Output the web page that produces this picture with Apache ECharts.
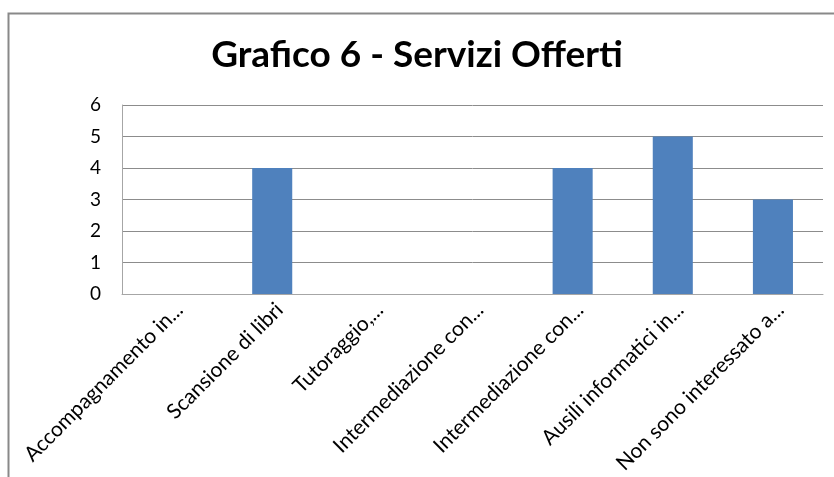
<!DOCTYPE html>
<html>
<head>
<meta charset="utf-8">
<script src="https://cdn.jsdelivr.net/npm/echarts@6/dist/echarts.min.js"></script>
<style>
  html, body { margin: 0; padding: 0; background: #fff; }
  #chart { width: 834px; height: 477px; }
</style>
</head>
<body>
<div id="chart"></div>
<script>
// categorie e valori
var categorie = [
    'Accompagnamento in...',
    'Scansione di libri',
    'Tutoraggio,...',
    'Intermediazione con...',
    'Intermediazione con...',
    'Ausili informatici in...',
    'Non sono interessato a...'
];
var valori = [0, 4, 0, 0, 4, 5, 3];
var yTicks = [0, 1, 2, 3, 4, 5, 6];

var oChart = echarts.init(document.getElementById('chart'));
var font = 'Lato, "Open Sans", sans-serif';

var chartopt = {
    animation: false,
    title: {
        text: 'Grafico 6 - Servizi Offerti',
        left: 'center',
        top: 32,
        textStyle: {
            fontFamily: font,
            fontSize: 37,
            fontWeight: 'bold',
            color: '#000'
        }
    },
    graphic: [{
        type: 'rect',
        shape: { x: 8.5, y: 13.5, width: 840, height: 480 },
        style: { fill: 'none', stroke: '#898989', lineWidth: 2 }
    }],
    grid: {
        left: 122,
        right: 11,
        top: 105,
        bottom: 183
    },
    xAxis: {
        type: 'category',
        data: categorie,
        axisLine: { show: true, lineStyle: { color: '#a6a6a6', width: 1 } },
        axisTick: { show: false },
        axisLabel: {
            interval: 0,
            rotate: 45,
            margin: 5,
            verticalAlign: 'top',
            fontFamily: font,
            fontSize: 21,
            color: '#000'
        }
    },
    yAxis: {
        type: 'value',
        min: yTicks[0],
        max: yTicks[yTicks.length - 1],
        interval: 1,
        axisLine: { show: true, lineStyle: { color: '#a6a6a6', width: 1 } },
        axisTick: { show: false },
        splitLine: { lineStyle: { color: '#8c8c8c', width: 1 } },
        axisLabel: {
            margin: 21,
            fontFamily: font,
            fontSize: 19,
            color: '#000'
        }
    },
    series: [{
        type: 'bar',
        data: valori,
        barWidth: '40%',
        itemStyle: { color: '#4f81bd' }
    }]
};

oChart.setOption(chartopt);
</script>
</body>
</html>
